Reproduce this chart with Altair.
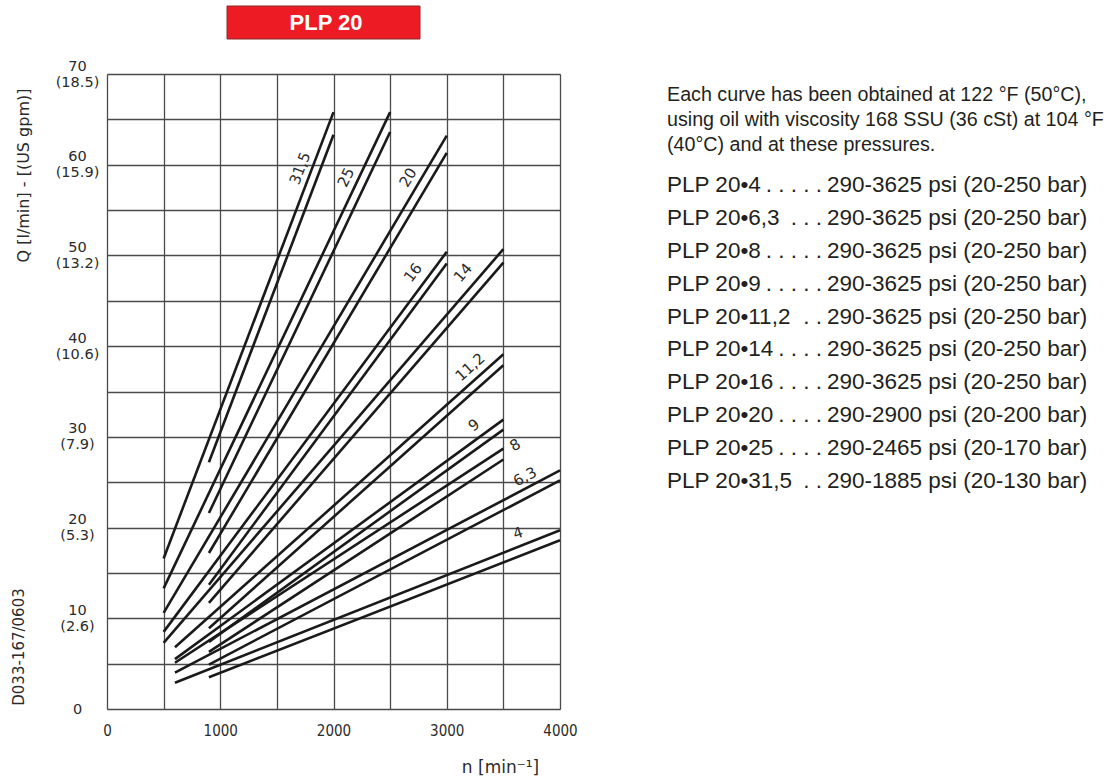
import altair as alt
import pandas as pd

# ---------------- data ----------------
series_labels = ["4", "6,3", "8", "9", "11,2", "14", "16", "20", "25", "31,5"]
# upper line of each pair (lowest pressure)
hi_n_start = [600, 600, 600, 600, 600, 500, 500, 500, 500, 500]
hi_q_start = [2.9, 4.0, 5.1, 5.5, 6.8, 7.3, 8.5, 10.6, 13.3, 16.6]
# lower line of each pair (highest pressure)
lo_n_start = [900, 900, 900, 900, 900, 900, 900, 900, 900, 900]
lo_q_start = [3.5, 4.9, 6.3, 7.4, 8.9, 11.7, 13.7, 17.2, 21.6, 27.2]
n_end = [4000, 4000, 3500, 3500, 3500, 3500, 3000, 3000, 2500, 2000]
hi_q_end = [19.7, 26.3, 28.7, 31.9, 39.1, 50.7, 50.4, 63.2, 65.8, 65.8]
lo_q_end = [18.6, 25.2, 27.5, 30.8, 37.9, 49.2, 49.1, 61.3, 63.6, 63.3]

# curve label anchors
label_n = [3630, 3691, 3603, 3240, 3205, 3144, 2702, 2658, 2110, 1704]
label_q = [19.4, 25.6, 29.1, 31.3, 37.7, 48.1, 48.1, 58.6, 58.6, 59.6]
label_angle = [342, 332, 330, 324, 318, 311, 307, 301, 296, 291]

x_ticks = list(range(0, 4001, 500))
y_ticks = list(range(0, 71, 5))
gpm_labels = ["", "2.6", "5.3", "7.9", "10.6", "13.2", "15.9", "18.5"]

title_text = "PLP 20"
x_title = "n  [min\u207b\u00b9]"
y_title = "Q  [l/min]  -  [(US gpm)]"
drawing_code = "D033-167/0603"

para_lines = [
    "Each curve has been obtained at 122 \u00b0F (50\u00b0C),",
    "using oil with viscosity 168 SSU (36 cSt) at 104 \u00b0F",
    "(40\u00b0C) and at these pressures.",
]
models = ["4", "6,3", "8", "9", "11,2", "14", "16", "20", "25", "31,5"]
model_dots = [5, 3, 5, 5, 2, 4, 4, 4, 4, 2]
psi_ranges = ["290-3625", "290-3625", "290-3625", "290-3625", "290-3625",
              "290-3625", "290-3625", "290-2900", "290-2465", "290-1885"]
bar_ranges = ["20-250", "20-250", "20-250", "20-250", "20-250",
              "20-250", "20-250", "20-200", "20-170", "20-130"]

# ---------------- tables ----------------
rows = []
for i, lab in enumerate(series_labels):
    rows.append({"key": lab + "_hi", "n": hi_n_start[i], "q": hi_q_start[i]})
    rows.append({"key": lab + "_hi", "n": n_end[i], "q": hi_q_end[i]})
    rows.append({"key": lab + "_lo", "n": lo_n_start[i], "q": lo_q_start[i]})
    rows.append({"key": lab + "_lo", "n": n_end[i], "q": lo_q_end[i]})
lines_df = pd.DataFrame(rows)

labels_df = pd.DataFrame({"label": series_labels, "n": label_n, "q": label_q, "ang": label_angle})

para_df = pd.DataFrame({"row": list(range(len(para_lines))), "text": para_lines})
plp_df = pd.DataFrame({
    "row": list(range(len(models))),
    "left": ["PLP 20\u2022" + m for m in models],
    "dots": [" ".join(["."] * d) for d in model_dots],
    "right": [p + " psi (" + b + " bar)" for p, b in zip(psi_ranges, bar_ranges)],
})
one = pd.DataFrame({"t": [title_text]})

CAD_FONT = "DejaVu Sans"
CAD_NARROW = "DejaVu Sans Condensed, DejaVu Sans"
INK = "#2b2b2b"
GRID = "#4a4a4a"

gpm_js = "[" + ",".join("'" + g + "'" for g in gpm_labels) + "]"

x_enc = alt.X(
    "n:Q",
    scale=alt.Scale(domain=[0, 4000], nice=False),
    axis=alt.Axis(
        values=x_ticks,
        labelExpr="datum.value % 1000 == 0 ? format(datum.value, 'd') : ''",
        grid=True, gridColor=GRID, gridWidth=1.3, gridOpacity=1,
        ticks=False, tickSize=0, domain=False,
        labelFlush=False, labelPadding=14, labelFont=CAD_NARROW, labelFontSize=15,
        labelColor=INK, labelOverlap=False,
        title=x_title, titleX=393, titleY=58, titleAlign="center",
        titleBaseline="middle", titleFont=CAD_FONT, titleFontSize=17,
        titleFontWeight="normal", titleColor=INK,
    ),
)
y_enc = alt.Y(
    "q:Q",
    scale=alt.Scale(domain=[0, 70], nice=False),
    axis=alt.Axis(
        values=y_ticks,
        labelExpr=("datum.value % 10 != 0 ? '' : (datum.value == 0 ? '0' : "
                   "[format(datum.value, 'd'), '(' + " + gpm_js + "[datum.value / 10] + ')'])"),
        grid=True, gridColor=GRID, gridWidth=1.3, gridOpacity=1,
        ticks=False, tickSize=0, domain=False,
        labelAlign="center", labelBaseline="middle", labelPadding=30,
        labelOffset={"condition": {"test": "datum.value == 0", "value": 0}, "value": -8},
        labelFont=CAD_FONT, labelFontSize=14.5, labelColor=INK, labelLineHeight=16,
        labelOverlap=False, labelFlush=False,
        title=y_title, titleAngle=270, titleX=-84, titleY=101, titleAlign="center",
        titleBaseline="middle", titleFont=CAD_FONT, titleFontSize=16,
        titleFontWeight="normal", titleColor=INK,
    ),
)

lines = alt.Chart(lines_df).mark_line(color="#1a1a1a", strokeWidth=2.6).encode(
    x=x_enc, y=y_enc, detail="key:N"
)

curve_labels = alt.Chart(labels_df).mark_text(
    font=CAD_FONT, fontSize=15, color=INK, align="center", baseline="middle"
).encode(
    x="n:Q", y="q:Q", text="label:N", angle=alt.Angle("ang:Q", scale=None)
)

title_box = alt.Chart(one).mark_rect(color="#ED1C24", stroke="#8a2a2a", strokeWidth=1).encode(
    x=alt.value(120), x2=alt.value(313), y=alt.value(-68), y2=alt.value(-35)
)
title_lbl = alt.Chart(one).mark_text(
    font="Liberation Sans", fontSize=22, fontWeight="bold", color="white",
    align="center", baseline="middle"
).encode(x=alt.value(219), y=alt.value(-51), text="t:N")

code_lbl = alt.Chart(one).mark_text(
    font=CAD_FONT, fontSize=15, color=INK, angle=270, align="center", baseline="middle"
).encode(x=alt.value(-88), y=alt.value(573), text=alt.value(drawing_code))

main = alt.layer(lines, curve_labels, title_box, title_lbl, code_lbl)

TXT = "Liberation Sans"
TXT_COL = "#231f20"
para = alt.Chart(para_df).mark_text(
    font=TXT, fontSize=19.7, color=TXT_COL, align="left", baseline="middle"
).encode(
    x=alt.value(560),
    y=alt.Y("row:Q", scale=alt.Scale(domain=[0, 2], range=[21, 71]), axis=None),
    text="text:N",
)

plp_y = alt.Y("row:Q", scale=alt.Scale(domain=[0, 9], range=[111, 407]), axis=None)
plp_left = alt.Chart(plp_df).mark_text(
    font=TXT, fontSize=22.5, color=TXT_COL, align="left", baseline="middle"
).encode(x=alt.value(560), y=plp_y, text="left:N")
plp_dots = alt.Chart(plp_df).mark_text(
    font=TXT, fontSize=22.5, color=TXT_COL, align="right", baseline="middle"
).encode(x=alt.value(715), y=plp_y, text="dots:N")
plp_right = alt.Chart(plp_df).mark_text(
    font=TXT, fontSize=22.5, color=TXT_COL, align="left", baseline="middle"
).encode(x=alt.value(720), y=plp_y, text="right:N")
plp = alt.layer(plp_left, plp_dots, plp_right)

chart = alt.layer(main, para, plp).resolve_scale(y="independent").properties(
    width=453,
    height=635,
    autosize=alt.AutoSizeParams(type="none"),
    padding={"left": 107, "top": 74, "right": 557, "bottom": 70},
).configure_view(stroke=GRID, strokeWidth=1.3).configure(background="white")

chart.save("out.html", embed_options={"renderer": "svg", "actions": False})
